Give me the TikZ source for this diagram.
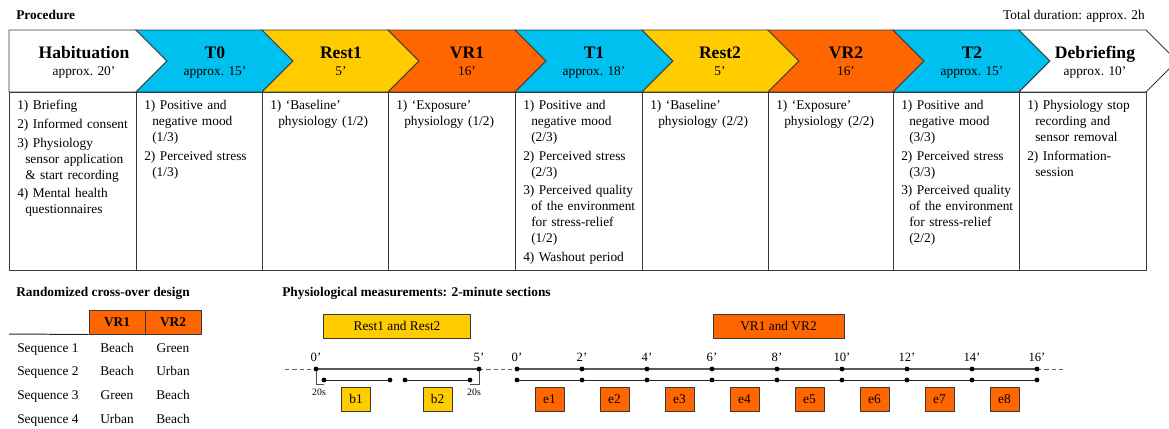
\documentclass[tikz,border=0pt]{standalone}
\usepackage{fontspec}
\setmainfont{Liberation Serif}
\usetikzlibrary{positioning}
\definecolor{cyanT}{HTML}{00C0F0}
\definecolor{yellowR}{HTML}{FFCC00}
\definecolor{orangeV}{HTML}{FF6600}
\definecolor{lineG}{HTML}{3A3A3A}
\newcommand{\stepitem}[1]{\hangindent=0.2cm\hangafter=1 #1\par}

\begin{document}
\begin{tikzpicture}
		[x=0.025cm, y=-0.025cm,
		phaseline/.style={draw=lineG, line width=0.7pt, line join=miter},
		phasetitle/.style={font=\fontsize{12.5}{14}\selectfont\bfseries, anchor=base, inner sep=0pt},
		phasesub/.style={font=\fontsize{9.5}{11}\selectfont, anchor=base, inner sep=0pt},
		taskcol/.style={anchor=north west, text width=2.95cm, align=left, inner sep=0pt,
			font=\fontsize{9.5}{11.3}\selectfont\setlength{\parskip}{2.1pt}},
		headtxt/.style={font=\fontsize{9.5}{11}\selectfont\bfseries, inner sep=0pt},
		plaintxt/.style={font=\fontsize{9.5}{11}\selectfont, inner sep=0pt},
		cellhead/.style={draw=lineG, fill=orangeV, line width=0.7pt, minimum width=1.4cm, minimum height=0.6cm,
			inner sep=0pt, font=\fontsize{9.5}{11}\selectfont\bfseries},
		secbox/.style={draw=lineG, line width=0.7pt, minimum width=0.725cm, minimum height=0.6cm,
			inner sep=0pt, font=\fontsize{9.5}{11}\selectfont},
		ticklab/.style={font=\fontsize{9}{10}\selectfont, inner sep=0pt},
		axisline/.style={draw=black!65, line width=1.1pt},
		secline/.style={draw=black!85, line width=0.7pt},
		gapline/.style={draw=black!60, line width=0.7pt, dash pattern=on 3pt off 2.2pt},
		dot/.style={fill=black}]
		\useasboundingbox[fill=white] (0,0) rectangle (1169,428);

		\node[headtxt, anchor=base west] (proc) at (16,19) {Procedure};
		\node[plaintxt, anchor=base east] (total) at (1145,19) {Total duration: approx. 2h};

		\foreach \lx/\rx/\nd/\col/\cx/\ttl/\sub in
			{9/136/0/white/84/Habituation/approx. 20',
			136/262/31/cyanT/215/T0/approx. 15',
			262/388/31/yellowR/341/Rest1/5',
			388/515/31/orangeV/467/VR1/16',
			515/642/31/cyanT/594/T1/approx. 18',
			642/768/31/yellowR/720/Rest2/5',
			768/893/31/orangeV/846/VR2/16',
			893/1019/31/cyanT/972/T2/approx. 15',
			1019/1146/31/white/1095/Debriefing/approx. 10'}
		{
			\draw[phaseline, fill=\col] (\lx,30) -- (\rx,30) -- (\rx+31,61) -- (\rx,92) -- (\lx,92) -- (\lx+\nd,61) -- cycle;
			\node[phasetitle] (t\ttl) at (\cx,58) {\ttl};
			\node[phasesub] (s\ttl) at (\cx,75) {\sub};
			\draw[phaseline] (\lx,92) rectangle (\rx,270);
		}

		\node[taskcol] (hab) at (17,100) {\stepitem{1) Briefing}
			\stepitem{2) Informed consent}
			\stepitem{3) Physiology\newline sensor application\newline \& start recording}
			\stepitem{4) Mental health\newline questionnaires}};
		\node[taskcol] (tzero) at (144,100) {\stepitem{1) Positive and\newline negative mood\newline (1/3)}
			\stepitem{2) Perceived stress\newline (1/3)}};
		\node[taskcol] (restone) at (270,100) {\stepitem{1) `Baseline'\newline physiology (1/2)}};
		\node[taskcol] (vrone) at (396,100) {\stepitem{1) `Exposure'\newline physiology (1/2)}};
		\node[taskcol] (tone) at (523,100) {\stepitem{1) Positive and\newline negative mood\newline (2/3)}
			\stepitem{2) Perceived stress\newline (2/3)}
			\stepitem{3) Perceived quality\newline of the environment\newline for stress-relief\newline (1/2)}
			\stepitem{4) Washout period}};
		\node[taskcol] (resttwo) at (650,100) {\stepitem{1) `Baseline'\newline physiology (2/2)}};
		\node[taskcol] (vrtwo) at (776,100) {\stepitem{1) `Exposure'\newline physiology (2/2)}};
		\node[taskcol] (ttwo) at (901,100) {\stepitem{1) Positive and\newline negative mood\newline (3/3)}
			\stepitem{2) Perceived stress\newline (3/3)}
			\stepitem{3) Perceived quality\newline of the environment\newline for stress-relief\newline (2/2)}};
		\node[taskcol] (debrief) at (1027,100) {\stepitem{1) Physiology stop\newline recording and\newline sensor removal}
			\stepitem{2) Information-\newline session}};

		\node[headtxt, anchor=base west] (rand) at (16,296) {Randomized cross-over design};
		\node[cellhead] (hvr1) at (117,322) {VR1};
		\node[cellhead] (hvr2) at (173,322) {VR2};
		\coordinate (ruleL) at (9,334);
		\draw[secline] (ruleL) -- (hvr1.south west);
		\foreach \ea/\eb [count=\k] in {Beach/Green, Beach/Urban, Green/Beach, Urban/Beach}
		{
			\node[plaintxt, anchor=base west] (seq\k) at (17,352+23.7*\k-23.7) {Sequence \k};
			\node[plaintxt, anchor=base] (va\k) at (117,352+23.7*\k-23.7) {\ea};
			\node[plaintxt, anchor=base] (vb\k) at (173,352+23.7*\k-23.7) {\eb};
		}

		\node[headtxt, anchor=base west] (phys) at (282,296) {Physiological measurements: 2-minute sections};
		\node[secbox, fill=yellowR, minimum width=3.65cm] (restbox) at (397,326) {Rest1 and Rest2};
		\node[secbox, fill=orangeV, minimum width=3.275cm] (vrbox) at (778.5,326) {VR1 and VR2};

		\coordinate (dl) at (285,369);
		\coordinate (r0) at (316,369);
		\coordinate (r5) at (479,369);
		\coordinate (dr) at (1063,369);
		\coordinate (sa) at (324,380);
		\coordinate (sb) at (390,380);
		\coordinate (sc) at (405,380);
		\coordinate (sd) at (470,380);
		\foreach \k in {0,...,8}
		{
			\coordinate (v\k) at (517+65*\k,369);
			\coordinate (w\k) at (517+65*\k,380);
		}
		\draw[gapline] (dl) -- (r0);
		\draw[gapline] (r5) -- (v0);
		\draw[gapline] (v8) -- (dr);
		\draw[axisline] (r0) -- (r5);
		\draw[axisline] (v0) -- (v8);
		\draw[secline] (sa) -- (sb);
		\draw[secline] (sc) -- (sd);
		\draw[secline] (w0) -- (w8);
		\draw[draw=black!70, line width=0.5pt] (r0) -- (316,384) -- (sa |- 0,384);
		\draw[draw=black!70, line width=0.5pt] (r5) -- (479,384) -- (sd |- 0,384);
		\foreach \p in {r0,r5,sa,sb,sc,sd} \fill[dot] (\p) circle[radius=0.06cm];
		\node[ticklab, above=0.17cm of r0] (lr0) {0'};
		\node[ticklab, above=0.17cm of r5] (lr5) {5'};
		\node[font=\fontsize{7}{8}\selectfont, inner sep=0pt] (gapa) at (319,392) {20s};
		\node[font=\fontsize{7}{8}\selectfont, inner sep=0pt] (gapb) at (474,392) {20s};
		\node[secbox, fill=yellowR] (b1) at (356,399) {b1};
		\node[secbox, fill=yellowR] (b2) at (437.5,399) {b2};
		\foreach \k in {0,...,8}
		{
			\pgfmathtruncatemacro{\mins}{2*\k}
			\fill[dot] (v\k) circle[radius=0.06cm];
			\fill[dot] (w\k) circle[radius=0.06cm];
			\node[ticklab, above=0.17cm of v\k] (lv\k) {\mins'};
		}
		\foreach \k in {1,...,8}
			\node[secbox, fill=orangeV] (e\k) at (549.5+65*\k-65,399) {e\k};
	\end{tikzpicture}
\end{document}
